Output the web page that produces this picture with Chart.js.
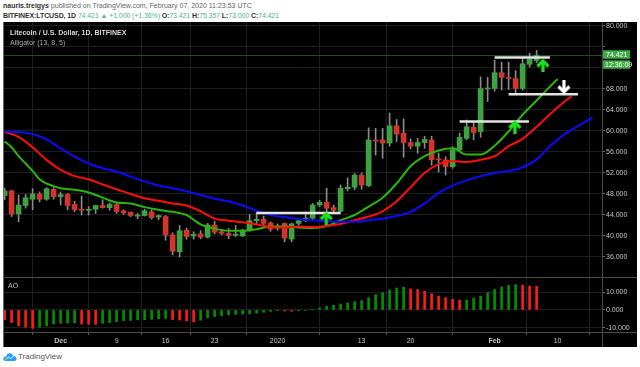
<!DOCTYPE html>
<html>
<head>
<meta charset="utf-8">
<title>LTCUSD 1D</title>
<script src="https://cdn.jsdelivr.net/npm/chart.js@4.4.1/dist/chart.umd.min.js"></script>
<style>
  html, body { margin: 0; padding: 0; background: #fff; }
  #wrap { position: relative; width: 640px; height: 367px; overflow: hidden;
          font-family: "Liberation Sans", Arial, sans-serif; }
  .txt { position: absolute; white-space: nowrap; font-size: 7px; line-height: 9px; }
  #head1 { left: 3px; top: 1px; color: #666; }
  #head1 b { color: #333; }
  #head2 { left: 3px; top: 11px; color: #333; letter-spacing: -0.1px; }
  #head2 .up { color: #4fb491; }
  #panel { position: absolute; left: 3px; top: 22px; width: 634px; height: 325px; background: #000; }
  .line { position: absolute; background: #4a4a4a; }
  canvas { position: absolute; }
  #price { left: 3px; top: 22px; }
  #ao { left: 3px; top: 277px; }
  #legend1 { left: 10px; top: 28px; color: #d8d8d8; font-weight: bold; }
  #legend2 { left: 10px; top: 37.5px; color: #a8a8a8; }
  #aoLabel { left: 8px; top: 281px; color: #bbb; }
  #footer { left: 18px; top: 352px; color: #555; font-size: 8px; line-height: 10px; }
  #logo { position: absolute; left: 3px; top: 352px; }
</style>
</head>
<body>
<div id="wrap">
  <div class="txt" id="head1"><b>nauris.treigys</b> published on TradingView.com, February 07, 2020 11:23:53 UTC</div>
  <div class="txt" id="head2"><b>BITFINEX:LTCUSD, 1D</b> <span class="up">74.421 &#9650; +1.000 (+1.36%)</span> <b>O:</b><span class="up">73.421</span> <b>H:</b><span class="up">75.357</span> <b>L:</b><span class="up">73.000</span> <b>C:</b><span class="up">74.421</span></div>
  <div id="panel"></div>
  <canvas id="price" width="634" height="255"></canvas>
  <canvas id="ao" width="634" height="70"></canvas>
  <div class="line" style="left:3px;top:22px;width:1px;height:325px;background:#666"></div>
  <div class="line" style="left:602px;top:22px;width:1px;height:325px"></div>
  <div class="line" style="left:3px;top:277px;width:634px;height:1px"></div>
  <div class="line" style="left:3px;top:332px;width:634px;height:1px"></div>
  <div class="txt" id="legend1">Litecoin / U.S. Dollar, 1D, BITFINEX</div>
  <div class="txt" id="legend2">Alligator (13, 8, 5)</div>
  <div class="txt" id="aoLabel">AO</div>
  <svg id="logo" width="14" height="9" viewBox="0 0 14 9">
    <path d="M3 9 C0.5 9 0 7.5 0.5 6.2 C1 5 2.2 4.6 3 4.8 C3.2 2.5 5 1 7 1.2 C8.8 1.4 10 2.6 10.3 4 C12 3.9 13.6 5.2 13.6 6.8 C13.6 8.2 12.6 9 11.2 9 Z" fill="#2a9df4"/>
    <path d="M2.5 7.5 L5.5 5 L7.5 6.5 L11 3.5" stroke="#fff" stroke-width="1" fill="none"/>
  </svg>
  <div class="txt" id="footer">TradingView</div>
</div>
<script>
// day index: 0 = Dec 1 2019
const xMin = -8.23;
const xMax = 77.34;
const firstDay = -8;

// daily candles, Nov 23 2019 .. Feb 7 2020
const opens  = [47.7, 48.6, 44.2, 45.8, 47.0, 48.0, 47.0, 48.9, 47.5, 47.9, 46.0, 45.05, 44.9, 45.1, 45.8, 45.4, 46.0, 44.8, 44.5, 43.8,
                43.9, 44.6, 43.6, 43.7, 40.2, 37.0, 41.1, 40.0, 40.4, 39.8, 42.1, 40.8, 40.5, 40.15, 40.0, 41.0, 42.9, 43.2, 42.5, 41.5,
                42.4, 39.4, 42.4, 43.0, 43.4, 45.9, 46.4, 45.4, 44.7, 49.0, 49.3, 51.6, 49.6, 58.2, 58.3, 57.7, 61.0, 59.6, 57.8, 57.1,
                57.8, 58.3, 54.6, 54.5, 53.2, 56.4, 58.6, 60.7, 59.9, 68.0, 68.1, 71.1, 70.1, 70.0, 68.1, 72.7, 73.421];
const highs  = [49.1, 48.7, 47.8, 47.9, 49.0, 48.4, 49.2, 49.2, 48.4, 48.1, 46.6, 47.6, 45.6, 45.9, 46.9, 46.3, 46.3, 45.0, 44.6, 44.3,
                45.1, 45.0, 44.0, 43.9, 40.6, 42.0, 41.5, 40.8, 41.0, 42.4, 42.8, 41.2, 41.4, 42.0, 41.3, 44.1, 44.5, 43.8, 42.7, 42.3,
                42.5, 42.5, 43.0, 44.6, 46.2, 46.8, 49.1, 45.9, 49.7, 51.1, 51.9, 52.0, 60.6, 60.5, 60.5, 63.4, 62.2, 62.3, 58.5, 58.6,
                59.0, 59.0, 55.8, 55.1, 57.0, 59.6, 62.1, 61.8, 70.3, 70.2, 73.5, 73.1, 73.1, 71.5, 74.0, 74.8, 75.357];
const lows   = [46.9, 43.7, 42.7, 45.3, 45.0, 46.5, 46.8, 47.0, 45.9, 45.0, 44.6, 44.0, 44.0, 44.3, 45.3, 44.9, 44.3, 44.1, 43.7, 43.3,
                43.8, 43.2, 43.1, 39.2, 36.4, 36.0, 39.4, 39.4, 39.5, 39.6, 40.4, 40.2, 39.5, 39.9, 39.9, 40.9, 42.4, 42.0, 40.9, 41.1,
                38.9, 38.9, 42.0, 42.7, 43.05, 45.6, 44.6, 44.6, 44.6, 48.6, 48.8, 48.9, 49.4, 55.4, 54.8, 57.1, 58.0, 55.0, 56.6, 55.75,
                56.7, 53.5, 52.2, 51.6, 52.9, 56.05, 58.3, 58.3, 58.8, 65.6, 67.6, 67.8, 67.9, 66.9, 67.8, 72.2, 73.0];
const closes = [48.6, 44.2, 45.9, 47.3, 48.0, 47.0, 49.0, 47.5, 47.9, 45.8, 45.0, 44.9, 45.1, 45.8, 45.4, 46.0, 44.65, 44.4, 43.9, 44.0,
                44.8, 43.5, 43.9, 40.2, 37.1, 41.0, 39.9, 40.3, 39.8, 42.1, 40.7, 40.5, 40.1, 40.3, 41.1, 42.9, 43.2, 42.4, 41.3, 41.7,
                39.6, 42.3, 42.9, 43.4, 45.9, 46.4, 45.3, 44.9, 49.1, 49.3, 51.6, 49.7, 58.3, 58.1, 57.7, 61.0, 59.4, 57.8, 57.1, 57.8,
                58.4, 54.5, 54.5, 53.2, 56.4, 58.8, 60.8, 59.7, 68.1, 68.2, 71.1, 70.2, 70.0, 68.1, 72.8, 73.7, 74.421];

// Awesome Oscillator, same days
const aoValues = [-5.6, -7.1, -8.8, -9.7, -10.3, -9.7, -9.0, -7.9, -7.5, -7.4, -7.3, -7.9, -8.0, -8.1, -7.5, -7.1, -6.6, -6.0, -5.9, -5.6,
                  -5.5, -5.3, -5.0, -4.8, -5.4, -5.7, -6.2, -6.6, -5.8, -4.4, -3.7, -3.2, -2.8, -2.5, -2.3, -2.1, -1.8, -1.3, -0.8, -0.4,
                  -0.6, -0.7, -0.5, -0.3, 0.3, 1.1, 2.0, 2.6, 3.3, 3.9, 4.6, 5.2, 6.9, 8.6, 9.7, 11.1, 12.3, 12.8, 11.8, 11.5,
                  10.6, 9.1, 7.8, 6.9, 6.0, 5.4, 5.6, 6.6, 7.8, 9.7, 11.5, 12.9, 13.8, 14.2, 13.8, 13.4, 13.3];

// Alligator lines (shifted forward)
const jawDays = [-8, -6, -4, -2, 0, 2, 4, 6, 8, 10, 12, 14, 16, 18, 20, 22, 24, 26, 28, 30, 32, 34, 36, 38, 40, 42,
                 44, 46, 48, 50, 52, 54, 56, 58, 60, 62, 64, 66, 68, 70, 72, 74, 76];
const jawValues = [59.9, 59.8, 59.4, 58.4, 56.7, 55.1, 53.8, 52.9, 52.3, 51.3, 50.4, 49.6, 49.1, 48.5, 47.8, 47.1, 46.6, 45.8, 44.8, 44.0, 43.6, 43.2, 43.0, 42.8, 42.7, 42.7,
                   43.0, 43.3, 43.8, 44.6, 46.2, 48.2, 49.6, 50.6, 51.4, 52.0, 52.4, 53.1, 54.6, 57.2, 59.4, 61.0, 62.6];
const teethDays = [-8, -6, -4, -2, 0, 2, 4, 6, 8, 10, 12, 14, 16, 18, 20, 22, 24, 26, 28, 30, 32, 34, 36, 38, 40, 42,
                   44, 46, 48, 50, 52, 54, 56, 58, 60, 62, 64, 66, 68, 70, 72, 73];
const teethValues = [59.8, 58.9, 56.9, 54.5, 52.6, 51.4, 50.8, 49.8, 48.9, 48.0, 47.2, 46.7, 46.2, 45.8, 44.7, 43.3, 42.9, 42.6, 42.2, 41.7, 41.6, 41.8, 41.7, 41.9, 42.3, 43.0,
                     43.7, 44.7, 46.6, 49.3, 52.0, 53.7, 54.3, 54.1, 54.5, 55.2, 57.1, 58.5, 60.8, 63.3, 65.6, 66.6];
const lipsDays = [-8, -7, -6, -5, -4, -3, -2, -1, 0, 2, 4, 6, 8, 10, 12, 14, 16, 18, 19, 20, 22, 24, 26, 28, 30, 32, 34,
                  36, 38, 40, 42, 44, 46, 48, 50, 52, 54, 56, 58, 60, 62, 64, 66, 68, 70, 71];
const lipsValues = [58.0, 56.9, 55.2, 53.8, 52.4, 50.8, 50.0, 49.5, 49.1, 48.8, 48.3, 47.3, 46.4, 46.2, 45.5, 45.0, 44.6, 44.0, 43.1, 42.2, 41.4, 41.0, 41.0, 41.3, 41.8, 41.8, 41.6,
                    41.5, 41.9, 43.0, 44.0, 45.6, 47.3, 50.0, 53.3, 55.2, 56.3, 56.7, 55.5, 55.5, 57.2, 59.9, 63.1, 65.8, 68.6, 69.9];

// drawn levels and arrows
const levelStart = [28.0, 57.0, 62.0, 64.0];
const levelEnd   = [40.0, 66.9, 69.9, 73.9];
const levelValue = [44.4, 61.8, 74.0, 67.0];
const arrowDays   = [37.95, 64.9, 68.9, 71.9];
const arrowValues = [43.4, 60.8, 72.5, 68.3];
const arrowDown   = [false, false, false, true];

const priceTicks = [36, 40, 44, 48, 52, 56, 60, 64, 68, 72, 76, 80];
const aoTicks = [-10, 0, 10];
const dateTicks = [0, 8, 15, 22, 31, 43, 50, 62, 71];
const dateLabels = ['Dec', '9', '16', '23', '2020', '13', '20', 'Feb', '10'];
const lastClose = closes[closes.length - 1];
const countdown = '12:36:09';

Chart.defaults.font.family = '"Liberation Sans", Arial, sans-serif';
Chart.defaults.font.size = 7;

const upColor = '#3da23f';
const downColor = '#d2352b';
const gridColor = '#1e1e1e';

const days = closes.map((c, i) => firstDay + i);
const candleColors = closes.map((c, i) => c >= opens[i] ? upColor : downColor);
const aoColors = aoValues.map((v, i) => (i > 0 && v >= aoValues[i - 1]) ? '#009100' : '#ff1a1a');

function makeArrow(color, down) {
  const c = document.createElement('canvas');
  c.width = 14; c.height = 14;
  const g = c.getContext('2d');
  if (down) { g.translate(0, 14); g.scale(1, -1); }
  g.strokeStyle = color;
  g.lineWidth = 3.2;
  g.beginPath(); g.moveTo(1.5, 8); g.lineTo(7, 2.5); g.lineTo(12.5, 8); g.stroke();
  g.beginPath(); g.moveTo(7, 3); g.lineTo(7, 14); g.stroke();
  return c;
}
const greenArrow = makeArrow('#1de21d', false);
const whiteArrow = makeArrow('#ffffff', true);

const levelSets = levelValue.map((v, i) => ({
  type: 'line',
  data: [{ x: levelStart[i], y: v }, { x: levelEnd[i], y: v }],
  borderColor: '#e4e4e4',
  borderWidth: 2.5,
  pointRadius: 0,
  order: 2
}));

function lineSet(xs, ys, color) {
  return {
    type: 'line',
    data: xs.map((x, i) => ({ x: x, y: ys[i] })),
    borderColor: color,
    borderWidth: 2,
    pointRadius: 0,
    cubicInterpolationMode: 'monotone',
    order: 3
  };
}

// last price line and the green price / countdown boxes
const lastPricePlugin = {
  id: 'lastPrice',
  beforeDatasetsDraw(chart) {
    const { ctx, chartArea, scales } = chart;
    const py = Math.round(scales.y.getPixelForValue(lastClose)) + 0.5;
    ctx.save();
    ctx.strokeStyle = '#1b4f1e';
    ctx.lineWidth = 1;
    ctx.beginPath();
    ctx.moveTo(chartArea.left, py);
    ctx.lineTo(chartArea.right, py);
    ctx.stroke();
    ctx.restore();
  },
  afterDraw(chart) {
    const { ctx, chartArea, scales } = chart;
    const py = scales.y.getPixelForValue(lastClose);
    const x0 = chartArea.right;
    ctx.save();
    ctx.fillStyle = '#3eaa45';
    ctx.fillRect(x0, py - 5, 28, 8.5);
    ctx.fillRect(x0, py + 5, 28, 8.5);
    ctx.fillStyle = '#fff';
    ctx.font = '7px "Liberation Sans", Arial, sans-serif';
    ctx.textBaseline = 'middle';
    ctx.fillText(lastClose.toFixed(3), x0 + 4, py - 0.6);
    ctx.fillText(countdown, x0 + 3, py + 9.4);
    ctx.restore();
  }
};

new Chart(document.getElementById('price'), {
  type: 'bar',
  data: {
    datasets: [
      {
        data: days.map((d, i) => ({ x: d, y: [lows[i], highs[i]] })),
        backgroundColor: '#8a8a8a',
        barThickness: 1,
        grouped: false,
        order: 5
      },
      {
        data: days.map((d, i) => ({ x: d, y: [opens[i], closes[i]] })),
        backgroundColor: candleColors,
        barThickness: 5,
        minBarLength: 1,
        grouped: false,
        order: 4
      },
      lineSet(jawDays, jawValues, '#0a0aff'),
      lineSet(teethDays, teethValues, '#ff0d0d'),
      lineSet(lipsDays, lipsValues, '#2cb50a'),
      ...levelSets,
      {
        type: 'line',
        data: arrowDays.map((d, i) => ({ x: d, y: arrowValues[i] })),
        showLine: false,
        pointStyle: arrowDown.map(dn => dn ? whiteArrow : greenArrow),
        pointRadius: 7,
        order: 1
      }
    ]
  },
  options: {
    responsive: false,
    animation: false,
    events: [],
    layout: { padding: 0, autoPadding: false },
    plugins: { legend: { display: false }, tooltip: { enabled: false } },
    scales: {
      x: {
        type: 'linear', min: xMin, max: xMax, offset: false,
        afterBuildTicks: s => { s.ticks = dateTicks.map(v => ({ value: v })); },
        afterFit: s => { s.height = 0; s.paddingLeft = 0; s.paddingRight = 0; },
        ticks: { display: false },
        grid: { color: gridColor, drawTicks: false },
        border: { display: false }
      },
      y: {
        position: 'right', min: 32.19, max: 80.76,
        afterBuildTicks: s => { s.ticks = priceTicks.map(v => ({ value: v })); },
        afterFit: s => { s.width = 35; s.paddingTop = 0; s.paddingBottom = 0; },
        ticks: {
          color: '#c4c4c4', padding: 1,
          callback: v => Math.abs(v - lastClose) < 3 ? '' : v.toFixed(3)
        },
        grid: { color: gridColor, tickLength: 3, tickColor: '#666' },
        border: { display: false }
      }
    }
  },
  plugins: [lastPricePlugin]
});

function dateFont(ctx) {
  const v = ctx.tick ? ctx.tick.value : null;
  const label = dateLabels[dateTicks.indexOf(v)];
  const bold = label !== undefined && isNaN(Number(label));
  return { size: 7, weight: bold ? 'bold' : 'normal' };
}

new Chart(document.getElementById('ao'), {
  type: 'bar',
  data: {
    datasets: [{
      data: days.map((d, i) => ({ x: d, y: aoValues[i] })),
      backgroundColor: aoColors,
      barThickness: 2,
      grouped: false
    }]
  },
  options: {
    responsive: false,
    animation: false,
    events: [],
    layout: { padding: 0, autoPadding: false },
    plugins: { legend: { display: false }, tooltip: { enabled: false } },
    scales: {
      x: {
        type: 'linear', min: xMin, max: xMax, offset: false,
        afterBuildTicks: s => { s.ticks = dateTicks.map(v => ({ value: v })); },
        afterFit: s => { s.height = 15; s.paddingLeft = 0; s.paddingRight = 0; },
        ticks: {
          color: '#c4c4c4', padding: 2, maxRotation: 0, autoSkip: false,
          font: dateFont,
          callback: v => dateLabels[dateTicks.indexOf(v)]
        },
        grid: { color: gridColor, tickLength: 3, tickColor: '#555' },
        border: { display: false }
      },
      y: {
        position: 'right', min: -12.4, max: 18.5,
        afterBuildTicks: s => { s.ticks = aoTicks.map(v => ({ value: v })); },
        afterFit: s => { s.width = 35; s.paddingTop = 0; s.paddingBottom = 0; },
        ticks: { color: '#c4c4c4', padding: 1, callback: v => v.toFixed(3) },
        grid: { color: gridColor, tickLength: 3, tickColor: '#666' },
        border: { display: false }
      }
    }
  }
});
</script>
</body>
</html>
